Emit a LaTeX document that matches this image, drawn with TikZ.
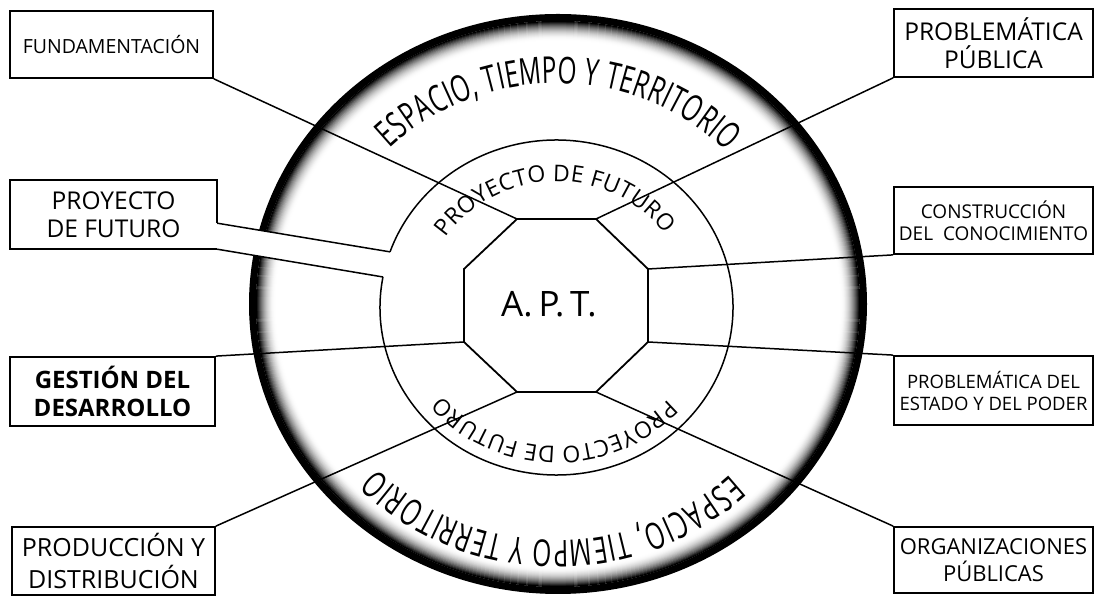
\documentclass[tikz,border=0pt]{standalone}
\usepackage{fontspec}
\setmainfont{Open Sans}
\newfontfamily\ringfont[FakeStretch=0.66]{Open Sans}
\usetikzlibrary{decorations.text,calc}
\newcommand{\ringtxt}{\ringfont\fontsize{37}{40}\selectfont}
\newcommand{\innertxt}{\fontsize{23}{26}\selectfont}
\begin{document}
\begin{tikzpicture}[x=1pt,y=1pt,
  box/.style={draw, line width=1.8pt, align=center, inner sep=0pt, fill=white},
  conn/.style={line width=1.5pt},
  octline/.style={line width=1.8pt, line join=miter},
]
\fill[white] (0,0) rectangle (1096,596);
\useasboundingbox (0,0) rectangle (1096,596);
\coordinate (oc) at (558,292);
\coordinate (ic) at (556.5,288.5);
\coordinate (tc) at (556.5,290.5);

% outer ring with dark shaded edge
\foreach \i in {18,17,...,0}{
  \pgfmathsetmacro\g{100*(1-\i/19)*(1-\i/19)}
  \draw[line width=1.3pt, black!\g] (oc) ellipse [x radius=301.5-\i, y radius=282.5-\i];
}
\draw[line width=7pt] (oc) ellipse [x radius=305.5, y radius=286.5];

% proyecto de futuro box with band
\node[inner sep=0pt, minimum width=207pt, minimum height=69pt, fill=white, align=center,
      font=\fontsize{24.5}{28}\selectfont] (proy) at (113.5,381.5) {PROYECTO\\DE FUTURO};
\coordinate (b1) at ($(ic)+(160.6:176.5 and 167.5)$);
\coordinate (b2) at ($(ic)+(169.5:176.5 and 167.5)$);
\coordinate (pbreak) at ([yshift=26pt]proy.south east);
\fill[white] (pbreak) -- (b1) -- (b2) -- (proy.south east) -- cycle;
\draw[line width=1.8pt, line join=miter] (pbreak) -- (proy.north east) -- (proy.north west) -- (proy.south west) -- (proy.south east);
\draw[conn] (pbreak) -- (b1);
\draw[conn] (proy.south east) -- (b2);

% inner circle (open where the band enters)
\draw[line width=1.5pt] (b2) arc[start angle=169.5, end angle=520.6, x radius=176.5, y radius=167.5];

% octagon
\coordinate (o1) at (517,377);
\coordinate (o2) at (596,377);
\coordinate (o3) at (648,327);
\coordinate (o4) at (648,254);
\coordinate (o5) at (596,204);
\coordinate (o6) at (517,204);
\coordinate (o7) at (464,254);
\coordinate (o8) at (464,327);
\draw[octline] (o1) -- (o2) -- (o3) -- (o4) -- (o5) -- (o6) -- (o7) -- (o8) -- cycle;
\node[font=\fontsize{35}{38}\selectfont] (apt) at (549,292) {A.\,P.\,T.};

% boxes
\node[box, minimum width=203pt, minimum height=67pt, font=\fontsize{19.5}{23}\selectfont] (fund) at (111.5,551.5) {FUNDAMENTACIÓN};
\node[box, minimum width=199pt, minimum height=68pt, font=\fontsize{24.5}{28}\selectfont] (probpub) at (993.5,553) {PROBLEMÁTICA\\PÚBLICA};
\node[box, minimum width=199pt, minimum height=67pt, font=\fontsize{19}{22}\selectfont] (constr) at (993.5,375.5) {CONSTRUCCIÓN\\DEL~~CONOCIMIENTO};
\node[box, minimum width=199pt, minimum height=69pt, font=\fontsize{18.5}{22}\selectfont] (probest) at (993.5,205.5) {PROBLEMÁTICA DEL\\ESTADO Y DEL PODER};
\node[box, minimum width=199pt, minimum height=66pt, font=\fontsize{22}{27}\selectfont] (org) at (993.5,36) {ORGANIZACIONES\\PÚBLICAS};
\node[box, minimum width=203pt, minimum height=68pt, font=\fontsize{25}{31.5}\selectfont] (prod) at (113.5,35) {PRODUCCIÓN Y\\DISTRIBUCIÓN};
\node[box, minimum width=205pt, minimum height=69pt, font=\bfseries\fontsize{24}{28}\selectfont] (gest) at (112.5,204.5) {GESTIÓN DEL\\DESARROLLO};

% connectors
\draw[conn] (fund.south east) -- (o1);
\draw[conn] (probpub.south west) -- (o2);
\draw[conn] (constr.south west) -- (o3);
\draw[conn] (probest.north west) -- (o4);
\draw[conn] (org.north west) -- (o5);
\draw[conn] (prod.north east) -- (o6);
\draw[conn] (gest.north east) -- (o7);

% texts along the rings
\path[decorate, decoration={text along path, text align=fit to path,
      text={|\ringtxt|ESPACIO, TIEMPO Y TERRITORIO}}]
  ($(tc)+(135:236 and 222)$) arc[start angle=135, end angle=44, x radius=236, y radius=222];
\path[decorate, decoration={text along path, text align=fit to path,
      text={|\ringtxt|ESPACIO, TIEMPO Y TERRITORIO}}]
  ($(tc)+(-46:250 and 235)$) arc[start angle=-46, end angle=-136, x radius=250, y radius=235];
\path[decorate, decoration={text along path, text align=fit to path,
      text={|\innertxt|PROYECTO DE FUTURO}}]
  ($(tc)+(147:132 and 124)$) arc[start angle=147, end angle=35, x radius=132, y radius=124];
\path[decorate, decoration={text along path, text align=fit to path,
      text={|\innertxt|PROYECTO DE FUTURO}}]
  ($(tc)+(-42:150 and 141)$) arc[start angle=-42, end angle=-140, x radius=150, y radius=141];
\end{tikzpicture}
\end{document}
